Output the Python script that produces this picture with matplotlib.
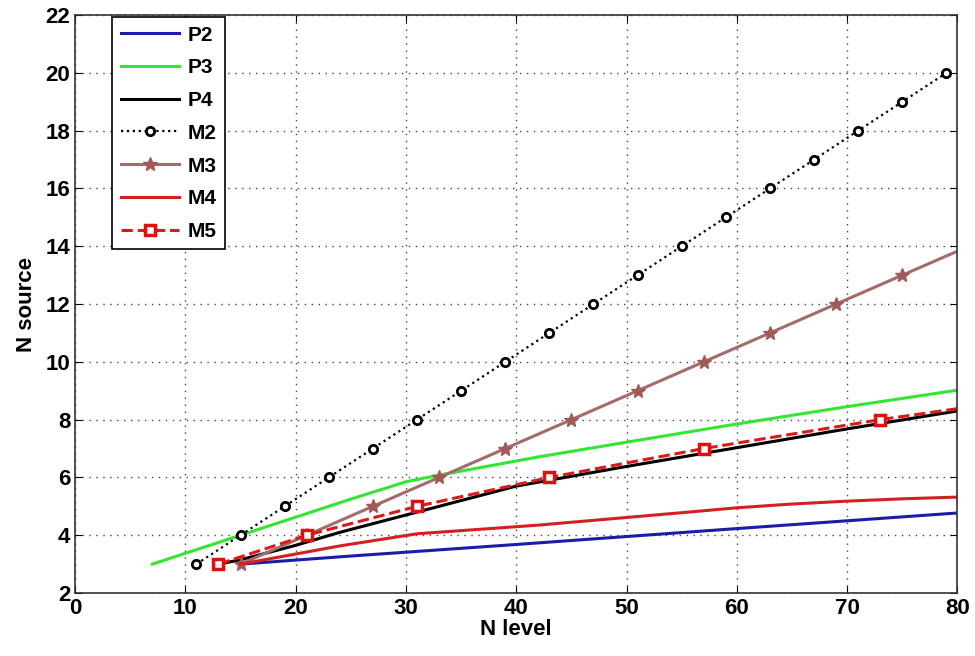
import numpy as np
import matplotlib
matplotlib.use('Agg')
import matplotlib.pyplot as plt

plt.rcParams.update({'font.family': 'Liberation Sans', 'font.weight': 'bold', 'font.size': 16})

# analytic bounds
p2_x = [15, 25, 40, 60, 80]
p2_y = [3.0, 3.28, 3.68, 4.23, 4.77]

p3_x = [7, 15, 25, 30, 33, 42, 50, 60, 70, 80]
p3_y = [3.0, 4.0, 5.25, 5.85, 6.08, 6.71, 7.22, 7.85, 8.45, 9.02]

p4_x = [13, 15, 20, 24, 31, 40, 50, 60, 70, 80]
p4_y = [3.0, 3.15, 3.65, 4.1, 4.8, 5.7, 6.38, 7.03, 7.68, 8.3]

# measured / simulated
m2_x = [11, 15, 19, 23, 27, 31, 35, 39, 43, 47, 51, 55, 59, 63, 67, 71, 75, 79]
m2_y = [3, 4, 5, 6, 7, 8, 9, 10, 11, 12, 13, 14, 15, 16, 17, 18, 19, 20]

m3_x = [15, 21, 27, 33, 39, 45, 51, 57, 63, 69, 75, 80]
m3_y = [3, 4, 5, 6, 7, 8, 9, 10, 11, 12, 13, 13.83]

m4_x = [15, 20, 24, 31, 42, 55, 60, 65, 70, 75, 80]
m4_y = [3.0, 3.35, 3.63, 4.05, 4.35, 4.78, 4.95, 5.08, 5.18, 5.26, 5.32]

m5_x = [13, 21, 31, 43, 57, 73, 80]
m5_y = [3, 4, 5, 6, 7, 8, 8.38]

fig = plt.figure(figsize=(9.75, 6.56), dpi=100)
ax = fig.add_axes([0.077, 0.096, 0.905, 0.881])

lw = 2.2
ax.plot(p2_x, p2_y, color='#1c1ca8', lw=lw, label='P2')
ax.plot(p3_x, p3_y, color='#33e633', lw=lw, label='P3')
ax.plot(p4_x, p4_y, color='black', lw=lw, label='P4')
ax.plot(m2_x, m2_y, color='black', ls=':', lw=1.6, marker='o', ms=6,
        mfc='white', mec='black', mew=2.0, label='M2')
ax.plot(m3_x, m3_y, color='#a56b6b', lw=lw, marker='*', ms=10,
        mfc='#a05a5a', mec='#a05a5a', markevery=list(range(len(m3_x) - 1)), label='M3')
ax.plot(m4_x, m4_y, color='#d42020', lw=lw, label='M4')
ax.plot(m5_x, m5_y, color='#dd1a1a', ls='--', lw=lw, marker='s', ms=7,
        mfc='white', mec='#e01010', mew=2.5, markevery=list(range(len(m5_x) - 1)), label='M5')

ax.set_xlim(0, 80)
ax.set_ylim(2, 22)
ax.set_xticks(np.arange(0, 81, 10))
ax.set_yticks(np.arange(2, 23, 2))
ax.grid(True, color='#444444', ls=(0, (1, 4)), lw=1.0)
ax.tick_params(direction='in', top=True, right=True, length=5, labelsize=16)
for s in ax.spines.values():
    s.set_linewidth(1.2)
    s.set_color('#333333')

ax.set_xlabel('N level', fontsize=16, fontweight='bold', labelpad=0)
ax.set_ylabel('N source', fontsize=16, fontweight='bold', labelpad=6)

leg = ax.legend(loc='upper left', bbox_to_anchor=(0.04, 1.0), fancybox=False,
                framealpha=1, edgecolor='black', handlelength=2.8,
                borderaxespad=0.1, labelspacing=0.66, handletextpad=0.4,
                borderpad=0.4, prop={'weight': 'bold', 'size': 15})
leg.get_frame().set_linewidth(1.2)

fig.savefig('out.png', dpi=100)
